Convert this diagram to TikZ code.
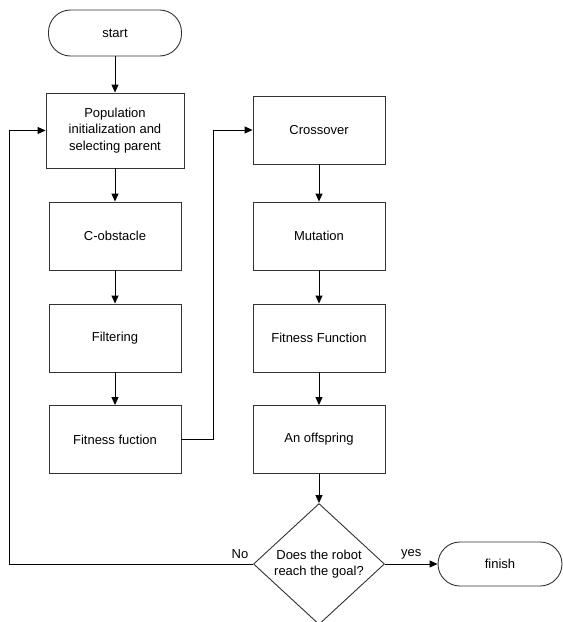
\documentclass[tikz,border=0pt]{standalone}
\usepackage{fontspec}
\setmainfont{Liberation Sans}
\usetikzlibrary{shapes.geometric,arrows.meta}
\begin{document}
\begin{tikzpicture}[x=1pt,y=-1pt,
  every node/.style={font=\fontsize{13}{16.5}\selectfont},
  box/.style={draw=black!80,line width=0.9pt,minimum width=132pt,minimum height=68pt,align=center,inner sep=2pt},
  term/.style={draw=black!80,line width=0.9pt,rounded corners=22pt,minimum height=46pt,inner sep=2pt},
  dec/.style={diamond,draw=black!80,line width=0.9pt,minimum width=131pt,minimum height=121pt,inner sep=0pt,align=center},
  arr/.style={-{Triangle[length=8pt,width=7pt]},line width=0.9pt}]
\useasboundingbox (0,0) rectangle (563,622);
%\draw [thin,gray] (0,0) rectangle (563,622);

\node [term,minimum width=133pt](start) at (115,33) {start};
\node [box,minimum width=138pt,minimum height=75pt](pop) at (115,130.5) {Population\\initialization and\\selecting parent};
\node [box](cobs) at (115,236) {C-obstacle};
\node [box](filt) at (115,338) {Filtering};
\node [box](fitl) at (115,439.5) {Fitness fuction};

\node [box](cross) at (319,130) {Crossover};
\node [box](mut) at (319,236) {Mutation};
\node [box](fitr) at (319,338) {Fitness Function};
\node [box](off) at (319,439.5) {An offspring};

\node [dec](goal) at (319,564) {Does the robot\\reach the goal?};
\node [term,minimum width=124pt,minimum height=44pt](finish) at (500,564) {finish};

\draw [arr](start)--(pop);
\draw [arr](pop)--(cobs);
\draw [arr](cobs)--(filt);
\draw [arr](filt)--(fitl);
\draw [arr](fitl.east)--++(32,0)|-(cross.west);

\draw [arr](cross)--(mut);
\draw [arr](mut)--(fitr);
\draw [arr](fitr)--(off);
\draw [arr](off)--(goal);

\draw [arr](goal.east)--(finish.west) node [midway,above=1pt]{yes};
\draw [arr](goal.west)--++(-244,0)|-(pop.west);
\node (no) at (240,554) {No};
\end{tikzpicture}
\end{document}
